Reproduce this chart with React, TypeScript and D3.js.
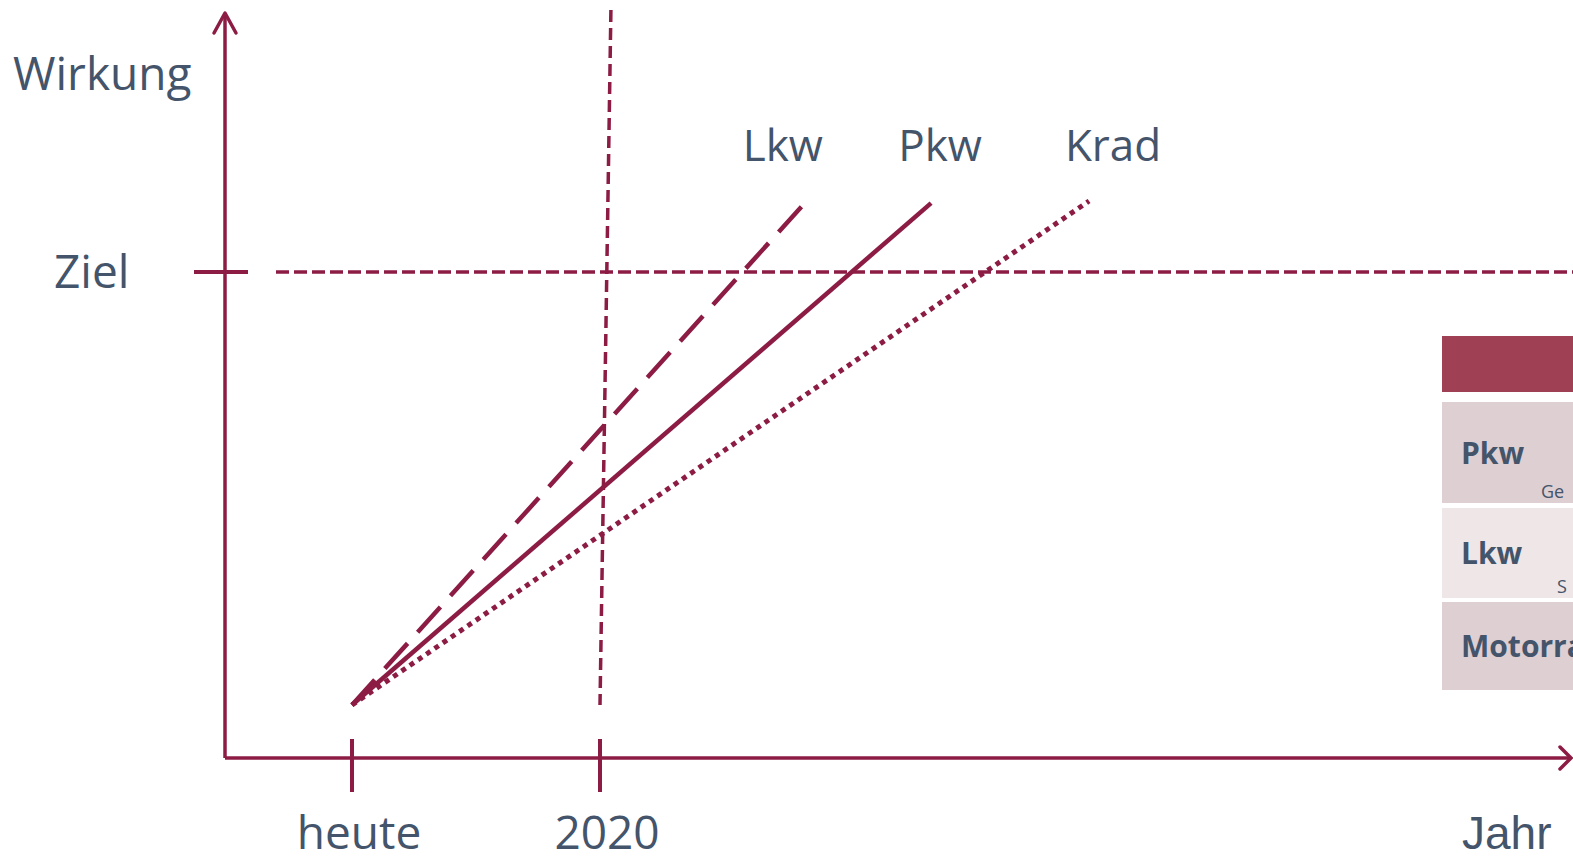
import React from "react";
import * as d3 from "d3";

// units: x = years index (heute = 0, 2020 = 1), y = Wirkung (start = 0, Ziel = 1)
const xTicks = [
  { label: "heute", value: 0 },
  { label: "2020", value: 1 },
];
const zielValue = 1;
const seriesNames = ["Lkw", "Pkw", "Krad"];
const seriesStart = [0, 0];
const seriesEndX = [1.83, 2.335, 2.972];
const seriesEndY = [1.162, 1.159, 1.164];
const seriesDash = ["34,15", "", "5,5"];
const markerLine = [
  [1.044, 1.605],
  [1.0, 0.0],
];
const tableRows = ["Pkw", "Lkw", "Motorrad"];
const tableSub = ["Ge", "S", ""];
const tableColors = ["#ddcfd2", "#eee6e7", "#ddcfd2"];

const W = 1573;
const H = 858;
const C = "#8c1c44";
const T = "#44546a";

export default function App() {
  const x = d3.scaleLinear().domain([0, 1]).range([352, 600]);
  const y = d3.scaleLinear().domain([0, 1]).range([705, 272]);
  const ox = 225;
  const oy = 758;
  const line = d3.line<number[]>().x((d) => x(d[0])).y((d) => y(d[1]));
  const font = "'Open Sans', sans-serif";
  const labelDx = [-23, 9, 24];

  return (
    <div style={{ position: "absolute", left: 0, top: 0 }}>
      <svg width={W} height={H} style={{ display: "block", background: "#fff" }}>
        {/* y axis */}
        <line x1={ox} y1={oy} x2={ox} y2={16} stroke={C} strokeWidth={3.5} />
        <path d={`M${ox - 11},${33} L${ox},${13} L${ox + 11},${33}`} fill="none" stroke={C} strokeWidth={3.5} strokeLinecap="round" strokeLinejoin="round" />
        {/* x axis */}
        <line x1={ox} y1={oy} x2={1570} y2={oy} stroke={C} strokeWidth={3.5} />
        <path d={`M${1560},${747} L${1571},${oy} L${1560},${769}`} fill="none" stroke={C} strokeWidth={3.5} strokeLinecap="round" />
        {/* x ticks */}
        {xTicks.map((t) => (
          <g key={t.label}>
            <line x1={x(t.value)} x2={x(t.value)} y1={739} y2={792} stroke={C} strokeWidth={4} />
            <text x={x(t.value) + 7} y={849} textAnchor="middle" fontFamily={font} fontSize={46} fill={T}>
              {t.label}
            </text>
          </g>
        ))}
        {/* Ziel */}
        <line x1={194} x2={248} y1={y(zielValue)} y2={y(zielValue)} stroke={C} strokeWidth={4} />
        <line x1={276} x2={W} y1={y(zielValue)} y2={y(zielValue)} stroke={C} strokeWidth={3.5} strokeDasharray="13,5" />
        <text x={54} y={y(zielValue) + 16} fontFamily={font} fontSize={46} fill={T}>Ziel</text>
        <text x={13} y={90} fontFamily={font} fontSize={46} fill={T}>Wirkung</text>
        <text x={1462} y={849} fontFamily="'Liberation Sans', Arial, sans-serif" fontSize={46} fill={T}>Jahr</text>
        {/* 2020 marker */}
        <path d={line(markerLine as number[][]) || ""} fill="none" stroke={C} strokeWidth={3.5} strokeDasharray="12,6" />
        {/* series */}
        {seriesNames.map((n, i) => (
          <g key={n}>
            <path
              d={line([[seriesStart[0], seriesStart[1]], [seriesEndX[i], seriesEndY[i]]]) || ""}
              fill="none"
              stroke={C}
              strokeWidth={i === 2 ? 5 : 4.5}
              strokeDasharray={seriesDash[i] || undefined}
            />
            <text x={x(seriesEndX[i]) + labelDx[i]} y={161} textAnchor="middle" fontFamily={font} fontSize={44} fill={T}>
              {n}
            </text>
          </g>
        ))}
        {/* table */}
        <rect x={1442} y={336} width={W - 1442} height={56} fill="#a04054" />
        {tableRows.map((r, i) => {
          const ys = [402, 508, 602];
          const hs = [101, 90, 88];
          return (
            <g key={r}>
              <rect x={1442} y={ys[i]} width={W - 1442} height={hs[i]} fill={tableColors[i]} />
              <text x={1461} y={ys[i] + hs[i] / 2 + 11} fontFamily={font} fontWeight="bold" fontSize={30} fill={T}>
                {r}
              </text>
              {tableSub[i] && (
                <text x={i === 0 ? 1541 : 1557} y={ys[i] + hs[i] - 5} fontFamily={font} fontSize={18} fill={T}>
                  {tableSub[i]}
                </text>
              )}
            </g>
          );
        })}
      </svg>
    </div>
  );
}
